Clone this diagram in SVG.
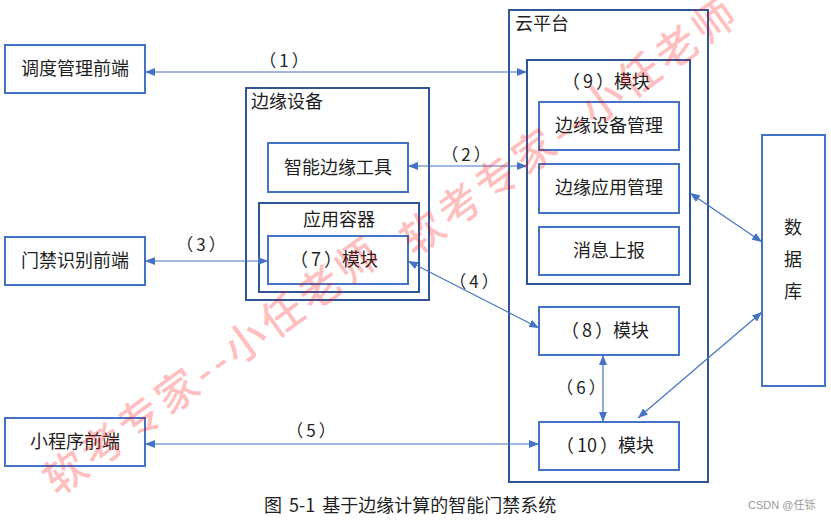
<svg xmlns="http://www.w3.org/2000/svg" width="831" height="520" viewBox="0 0 831 520">
<defs>
<style>
.box{fill:#fff;stroke:#4472C4;stroke-width:2}
.cont{fill:none;stroke:#2F5597;stroke-width:2}
.t{font-family:"Noto Sans CJK SC","Microsoft YaHei",sans-serif;font-size:18px;fill:#1f1f1f}
.c{text-anchor:middle}
.lbl{font-family:"Noto Sans CJK SC",sans-serif;font-size:17px;fill:#262626;text-anchor:middle}
.ln{stroke:#4472C4;stroke-width:1.2;fill:none;marker-start:url(#ah);marker-end:url(#ah)}
.wm{font-family:"Noto Sans CJK SC",sans-serif;font-size:42px;font-weight:500;letter-spacing:4px;fill:#ff0000;fill-opacity:0.26;text-anchor:middle}
</style>
<marker id="ah" viewBox="0 0 10 8" refX="10" refY="4" markerWidth="10" markerHeight="8" markerUnits="userSpaceOnUse" orient="auto-start-reverse">
<path d="M0,0 L10,4 L0,8 z" fill="#4472C4"/>
</marker>
</defs>
<rect width="831" height="520" fill="#fff"/>

<g id="cloud">
<rect class="cont" x="509" y="10" width="199" height="472"/>
<text class="t" x="515" y="30">云平台</text>
</g>
<g id="module9">
<rect class="cont" x="527" y="60" width="163" height="224"/>
<text class="t c" x="606" y="88">（<tspan dx="3">9</tspan><tspan dx="3">）</tspan>模块</text>
</g>
<g id="edge">
<rect class="cont" x="246" y="88" width="183" height="212"/>
<text class="t" x="251" y="108">边缘设备</text>
</g>
<g id="container">
<rect class="cont" x="259" y="203" width="160" height="89"/>
<text class="t c" x="339" y="226">应用容器</text>
</g>

<g id="n-dispatch"><rect class="box" x="5" y="45" width="140" height="48"/><text class="t c" x="75" y="75">调度管理前端</text></g>
<g id="n-door"><rect class="box" x="5" y="237" width="140" height="48"/><text class="t c" x="75" y="267">门禁识别前端</text></g>
<g id="n-mini"><rect class="box" x="5" y="418" width="140" height="48"/><text class="t c" x="75" y="448">小程序前端</text></g>
<g id="n-tool"><rect class="box" x="268" y="143" width="140" height="49"/><text class="t c" x="338" y="174">智能边缘工具</text></g>
<g id="n-m7"><rect class="box" x="268" y="236" width="140" height="48"/><text class="t c" x="334" y="266">（<tspan dx="3">7</tspan><tspan dx="3">）</tspan>模块</text></g>
<g id="n-devmgr"><rect class="box" x="539" y="102" width="140" height="48"/><text class="t c" x="609" y="132">边缘设备管理</text></g>
<g id="n-appmgr"><rect class="box" x="539" y="164" width="140" height="49"/><text class="t c" x="609" y="194">边缘应用管理</text></g>
<g id="n-msg"><rect class="box" x="539" y="227" width="140" height="48"/><text class="t c" x="609" y="257">消息上报</text></g>
<g id="n-m8"><rect class="box" x="539" y="307" width="140" height="48"/><text class="t c" x="605" y="337">（<tspan dx="3">8</tspan><tspan dx="3">）</tspan>模块</text></g>
<g id="n-m10"><rect class="box" x="539" y="422" width="140" height="48"/><text class="t c" x="605" y="452">（<tspan dx="3">10</tspan><tspan dx="3">）</tspan>模块</text></g>
<g id="n-db"><rect class="box" x="762" y="135" width="63" height="251"/>
<text class="t c" x="793" y="234">数</text><text class="t c" x="793" y="266">据</text><text class="t c" x="793" y="298">库</text></g>

<g id="connectors">
<line class="ln" x1="145" y1="72" x2="527" y2="72"/>
<line class="ln" x1="408" y1="166" x2="527" y2="166"/>
<line class="ln" x1="145" y1="261" x2="268" y2="261"/>
<line class="ln" x1="408" y1="261" x2="539" y2="328"/>
<line class="ln" x1="145" y1="444" x2="539" y2="444"/>
<line class="ln" x1="603" y1="355" x2="603" y2="422"/>
<line class="ln" x1="690" y1="193" x2="762" y2="242"/>
<line class="ln" x1="638" y1="418" x2="762" y2="312"/>
<text class="lbl" x="284" y="67">（<tspan dx="3">1</tspan><tspan dx="3">）</tspan></text>
<text class="lbl" x="466" y="161">（<tspan dx="3">2</tspan><tspan dx="3">）</tspan></text>
<text class="lbl" x="201" y="251">（<tspan dx="3">3</tspan><tspan dx="3">）</tspan></text>
<text class="lbl" x="474" y="288">（<tspan dx="3">4</tspan><tspan dx="3">）</tspan></text>
<text class="lbl" x="311" y="437">（<tspan dx="3">5</tspan><tspan dx="3">）</tspan></text>
<text class="lbl" x="581" y="394">（<tspan dx="3">6</tspan><tspan dx="3">）</tspan></text>
</g>

<text class="t" x="264" y="512" word-spacing="3">图 5-1 基于边缘计算的智能门禁系统</text>
<text x="748" y="509" font-family="Liberation Sans, Noto Sans CJK SC, sans-serif" font-size="11" fill="#999">CSDN @任铄</text>

<g id="watermark">
<text class="wm" transform="translate(213,366) rotate(-36)" dy="0.35em">软考专家--小任老师</text>
<text class="wm" transform="translate(570,126) rotate(-36)" dy="0.35em">软考专家--小任老师</text>
</g>
</svg>
